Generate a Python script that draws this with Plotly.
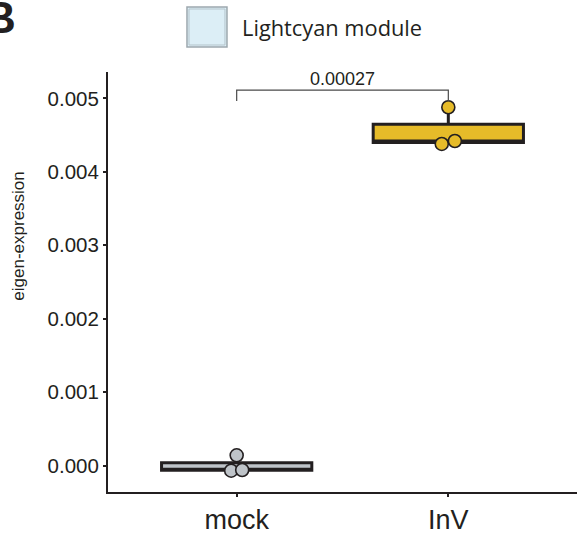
import plotly.graph_objects as go

# Eigengene expression of the lightcyan module per condition
categories = ["mock", "InV"]
mock_values = [-0.00007, -0.00006, 0.00014]
inv_values = [0.00438, 0.00442, 0.00488]
fill_colors = ["#BFC4C9", "#E6BB29"]
p_value_label = "0.00027"
y_tick_values = [0.000, 0.001, 0.002, 0.003, 0.004, 0.005]

# horizontal offsets of the stacked dots (in category units)
dot_offsets = [[-0.026, 0.026, 0.0], [-0.031, 0.031, 0.0]]

ink = "#231F20"
font_family = "Liberation Sans, Arial, Helvetica, sans-serif"

fig = go.Figure()

groups = [mock_values, inv_values]
for i, (cat, vals) in enumerate(zip(categories, groups)):
    fig.add_trace(go.Box(
        x=[i] * len(vals),
        y=vals,
        width=0.71,
        fillcolor=fill_colors[i],
        line=dict(color=ink, width=3),
        boxpoints=False,
        quartilemethod="inclusive",
        whiskerwidth=0,
        showlegend=False,
        hoverinfo="skip",
        name=cat,
    ))

for i, vals in enumerate(groups):
    fig.add_trace(go.Scatter(
        x=[i + d for d in dot_offsets[i]],
        y=vals,
        mode="markers",
        marker=dict(size=13, color=fill_colors[i], line=dict(color=ink, width=1.6)),
        showlegend=False,
        hoverinfo="skip",
        cliponaxis=False,
    ))

# significance bracket between the two groups
bracket_top = 0.005113
left_leg = 0.004966
right_leg = 0.004960
fig.add_shape(type="path",
              path=f"M 0,{left_leg} L 0,{bracket_top} L 1,{bracket_top} L 1,{right_leg}",
              xref="x", yref="y", line=dict(color="#4a4a4a", width=1.2))
fig.add_annotation(x=0.5, y=bracket_top, xref="x", yref="y", text=p_value_label,
                   showarrow=False, yanchor="bottom", yshift=-1,
                   font=dict(family=font_family, size=18, color=ink))

# module legend key
fig.add_shape(type="rect", xref="paper", yref="paper",
              x0=0.1684, x1=0.2537, y0=1.0595, y1=1.1548,
              fillcolor="#DCEEF6", line=dict(color="#9DA8AE", width=1.5), layer="above")
fig.add_shape(type="rect", xref="paper", yref="paper",
              x0=0.1727, x1=0.2494, y0=1.0643, y1=1.1500,
              fillcolor="rgba(0,0,0,0)", line=dict(color="#B5C4CB", width=1), layer="above")
fig.add_annotation(x=0.2814, y=1.1048, xref="paper", yref="paper", text="Lightcyan module",
                   showarrow=False, xanchor="left", yanchor="middle",
                   font=dict(family="Open Sans, Noto Sans, sans-serif", size=21.8, color=ink))

# y-axis title
fig.add_annotation(x=-0.19, y=0.61, xref="paper", yref="paper", text="eigen-expression",
                   showarrow=False, textangle=-90, xanchor="center", yanchor="middle",
                   font=dict(family=font_family, size=17, color=ink))

# panel letter
fig.add_annotation(x=-0.269, y=1.1286, xref="paper", yref="paper", text="<b>B</b>",
                   showarrow=False, xanchor="left", yanchor="middle",
                   font=dict(family=font_family, size=44, color=ink))

fig.update_layout(
    width=581, height=538,
    margin=dict(l=108, r=4, t=72, b=46),
    plot_bgcolor="white", paper_bgcolor="white",
    font=dict(family=font_family, color=ink),
    xaxis=dict(
        range=[-0.608, 1.608],
        tickvals=list(range(len(categories))),
        ticktext=categories,
        showgrid=False, zeroline=False,
        showline=True, linecolor=ink, linewidth=2,
        ticks="outside", ticklen=3, tickwidth=1.5, tickcolor=ink,
        tickfont=dict(size=27, color=ink),
    ),
    yaxis=dict(
        range=[-0.00036, 0.00536],
        tickvals=y_tick_values,
        tickformat=".3f",
        showgrid=False, zeroline=False,
        showline=True, linecolor=ink, linewidth=2,
        ticks="outside", ticklen=3, tickwidth=1.5, tickcolor=ink,
        tickfont=dict(size=20.5, color=ink),
    ),
)

fig.write_html("out.html")
